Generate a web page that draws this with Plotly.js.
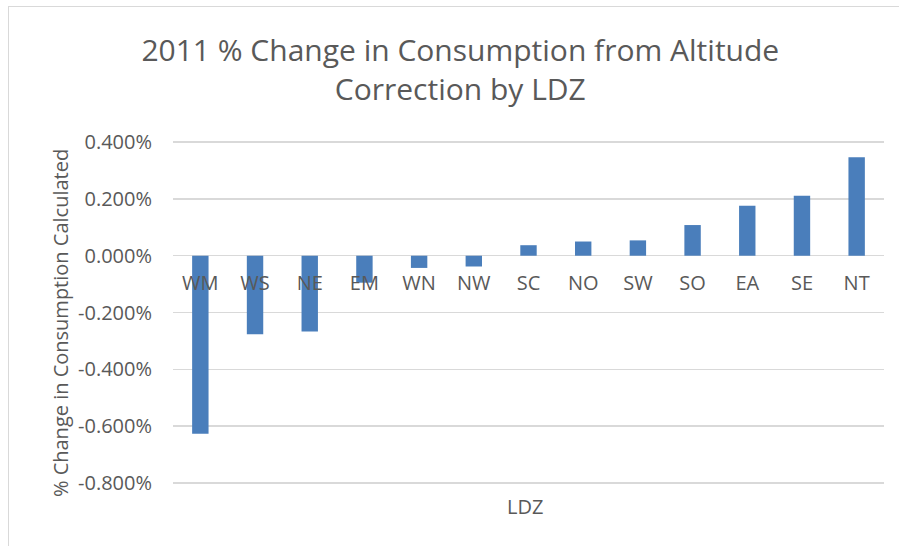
<!DOCTYPE html>
<html>
<head>
<meta charset="utf-8">
<script src="https://cdn.plot.ly/plotly-3.0.1.min.js"></script>
<style>
html,body{margin:0;padding:0;background:#fff;}
#wrap{position:relative;width:899px;height:546px;overflow:hidden;}
#chart{position:absolute;left:0;top:0;width:899px;height:546px;}
#frame{position:absolute;left:8px;top:6px;width:900px;height:560px;border-left:1.5px solid #d9d9d9;border-top:1.5px solid #d9d9d9;pointer-events:none;}
</style>
</head>
<body>
<div id="wrap"><div id="chart"></div><div id="frame"></div></div>
<script>
// Data (percent change)
const categories = ["WM","WS","NE","EM","WN","NW","SC","NO","SW","SO","EA","SE","NT"];
const pctChange = [-0.627, -0.277, -0.267, -0.095, -0.043, -0.038, 0.037, 0.050, 0.054, 0.108, 0.176, 0.211, 0.347];
const yTickVals = [-0.8, -0.6, -0.4, -0.2, 0.0, 0.2, 0.4];
const yTickText = ["-0.800%","-0.600%","-0.400%","-0.200%","0.000%","0.200%","0.400%"];

const yMin = -0.804, yMax = 0.404;
const zeroPos = (0 - yMin) / (yMax - yMin);
const grey = '#595959';
const font = '"Open Sans", "Noto Sans", sans-serif';

const trace = {
  type: 'bar',
  x: categories,
  y: pctChange,
  marker: {color: '#4a7ebb'},
  hoverinfo: 'x+y'
};

const layout = {
  width: 899, height: 546,
  margin: {l: 173, r: 15, t: 141, b: 62},
  paper_bgcolor: '#fff', plot_bgcolor: '#fff',
  bargap: 0.7,
  showlegend: false,
  title: {
    text: '2011 % Change in Consumption from Altitude<br>Correction by LDZ',
    font: {family: font, size: 30, color: grey},
    xref: 'container', x: 0.512, xanchor: 'center',
    yref: 'container', y: 0.888, yanchor: 'top'
  },
  xaxis: {
    type: 'category',
    anchor: 'free', position: zeroPos,
    showgrid: false, zeroline: false, showline: false,
    ticks: '', ticklabelstandoff: 13,
    tickfont: {family: font, size: 20, color: grey}
  },
  yaxis: {
    range: [yMin, yMax],
    tickvals: yTickVals, ticktext: yTickText,
    showgrid: true, gridcolor: '#d9d9d9', gridwidth: 1.5,
    zeroline: true, zerolinecolor: '#d9d9d9', zerolinewidth: 1.5,
    showline: false, ticks: '', ticklabelstandoff: 20,
    tickfont: {family: font, size: 20, color: grey}
  },
  annotations: [
    {text: '% Change in Consumption Calculated', textangle: -90,
     xref: 'paper', yref: 'paper', x: -0.159, y: 0.469,
     xanchor: 'center', yanchor: 'middle', showarrow: false,
     font: {family: font, size: 20, color: grey}},
    {text: 'LDZ', xref: 'paper', yref: 'paper', x: 0.495, y: -0.065,
     xanchor: 'center', yanchor: 'middle', showarrow: false,
     font: {family: font, size: 20, color: grey}}
  ]
};

Plotly.newPlot('chart', [trace], layout, {displayModeBar: false, staticPlot: true});
</script>
</body>
</html>
